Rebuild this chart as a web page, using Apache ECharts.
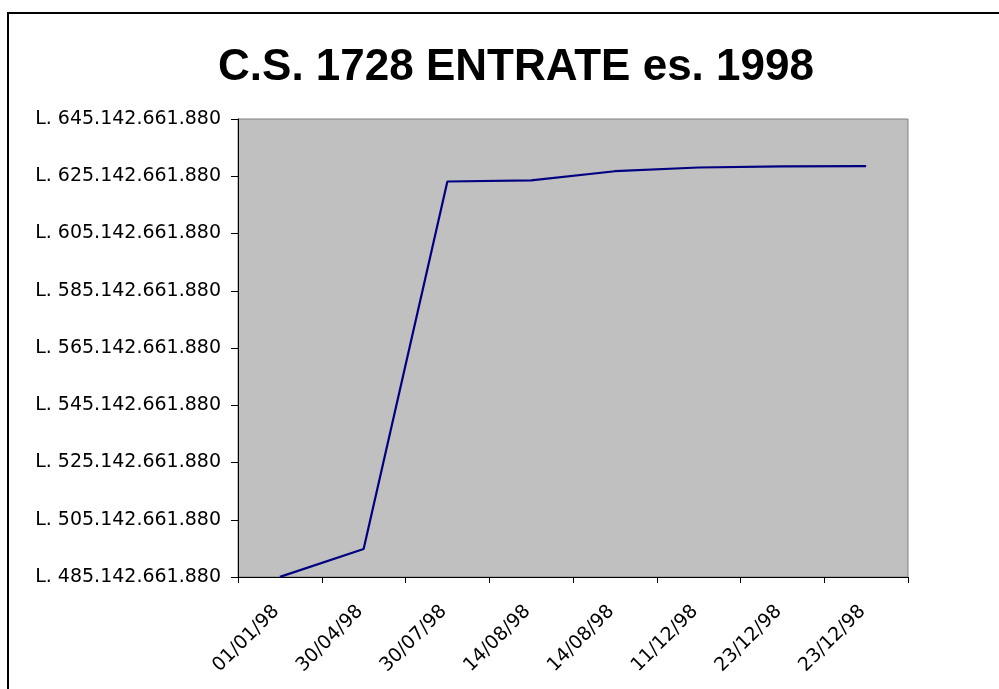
<!DOCTYPE html>
<html>
<head>
<meta charset="utf-8">
<script src="https://cdn.jsdelivr.net/npm/echarts@6/dist/echarts.min.js"></script>
<style>
  html, body { margin: 0; padding: 0; background: #fff; }
  #chart { width: 999px; height: 689px; }
</style>
</head>
<body>
<div id="chart"></div>
<script>
// dates of the entries (two pairs repeat in the original sheet)
const dates = ['01/01/98', '30/04/98', '30/07/98', '14/08/98', '14/08/98', '11/12/98', '23/12/98', '23/12/98']
// cumulative income, lire
const entrate = [485200000000, 494900000000, 623300000000, 623700000000, 626900000000, 628200000000, 628600000000, 628700000000]
// y axis range as printed
const yMin = 485142661880
const yMax = 645142661880
const yStep = 20000000000

function lire(v) {
  let s = Math.round(v).toString().replace(/\B(?=(\d{3})+(?!\d))/g, '.')
  return 'L. ' + s
}

let ch = echarts.init(document.getElementById('chart'))
let labelFont = 'DejaVu Sans'

let option = {
  animation: false,
  title: {
    text: 'C.S. 1728 ENTRATE es. 1998',
    left: 511,
    top: 41,
    textAlign: 'center',
    textStyle: {
      fontFamily: 'Liberation Sans',
      fontWeight: 'bold',
      fontSize: 44,
      color: '#000'
    }
  },
  graphic: [{
    type: 'rect',
    shape: { x: 8, y: 13, width: 1200, height: 1000 },
    style: { fill: 'none', stroke: '#000', lineWidth: 2 },
    silent: true
  }],
  grid: {
    left: 238,
    top: 119,
    width: 670,
    height: 458,
    show: true,
    backgroundColor: '#C0C0C0',
    borderColor: '#808080',
    borderWidth: 1
  },
  xAxis: {
    type: 'category',
    data: dates,
    boundaryGap: true,
    axisLine: { lineStyle: { color: '#000', width: 1 } },
    axisTick: { show: true, length: 6, lineStyle: { color: '#000' } },
    axisLabel: {
      interval: 0,
      rotate: 45,
      margin: 28,
      padding: [0, 5, 0, 0],
      color: '#000',
      fontFamily: labelFont,
      fontSize: 19
    },
    splitLine: { show: false }
  },
  yAxis: {
    type: 'value',
    min: yMin,
    max: yMax,
    interval: yStep,
    axisLine: { show: true, lineStyle: { color: '#000', width: 1 } },
    axisTick: { show: true, length: 7, lineStyle: { color: '#000' } },
    axisLabel: {
      margin: 17,
      color: '#000',
      fontFamily: labelFont,
      fontSize: 19,
      formatter: lire
    },
    splitLine: { show: false }
  },
  series: [{
    type: 'line',
    data: entrate,
    symbol: 'none',
    lineStyle: { color: '#000080', width: 2.2 }
  }]
}
ch.setOption(option)
</script>
</body>
</html>
